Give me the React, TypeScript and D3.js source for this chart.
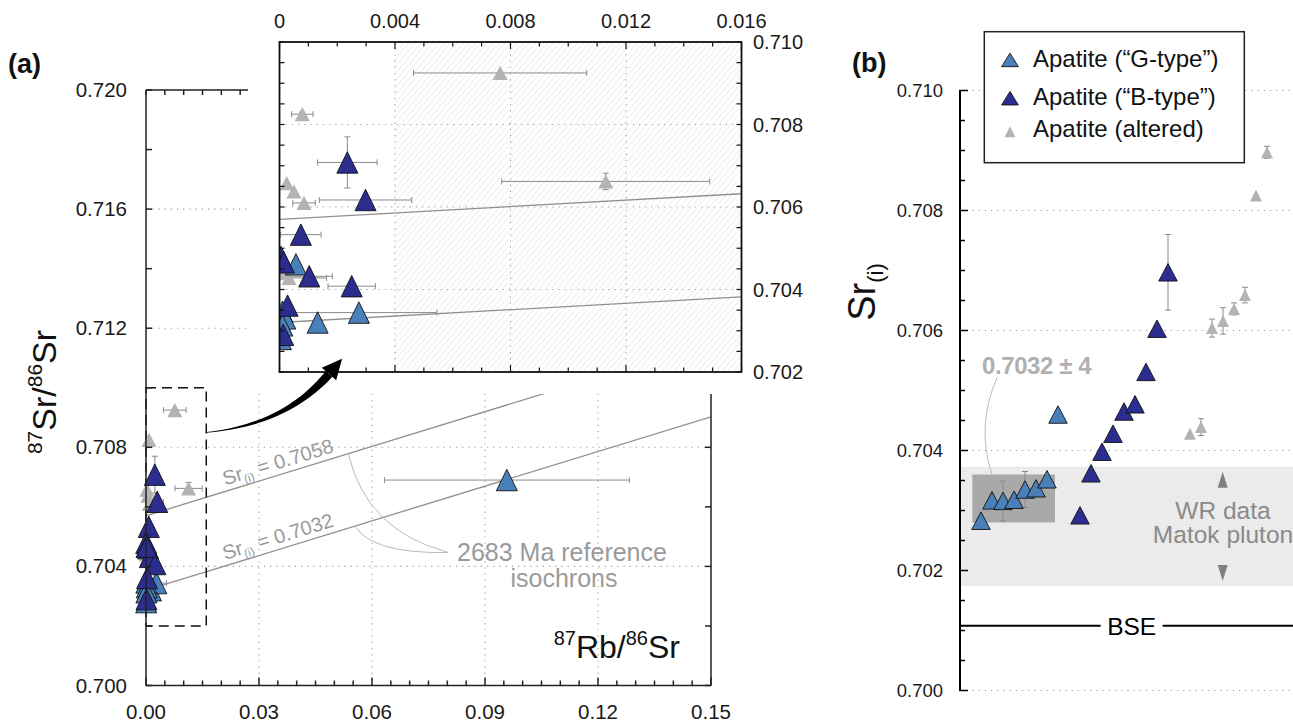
import React from 'react';
import * as d3 from 'd3';

// ---------- Panel (a): measured apatite data ----------
const apType = ['G','G','G','G','G','G','G','G','B','B','B','B','B','B','B','B','B','A','A','A','A','A','A','A','A'];
const rbSr = [0.00057,0.00132,0.00275,0.00010,0.00020,0.00010,0.00005,0.0958,
  0.00235,0.00298,0.00074,0.00005,0.00103,0.0025,0.00028,0.00013,0.00015,
  0.00079,0.00025,0.0005,0.00085,0.00764,0.0113,0.00033,0.0001];
const srSr = [0.70461,0.70320,0.70344,0.70346,0.70330,0.70313,0.70280,0.7069,
  0.70708,0.70617,0.70533,0.70479,0.70432,0.70408,0.70361,0.70290,0.70466,
  0.70825,0.70658,0.70638,0.7061,0.70925,0.70662,0.70428,0.7044];
const rbSrErr = [0,0,0.0027,0,0,0,0,0.0325,
  0.00103,0.0016,0.0007,0,0.0008,0.00082,0,0,0,
  0.00037,0,0,0.00039,0.003,0.0036,0.0013,0];
const srSrErr = [0,0,0.00009,0,0,0,0,0,
  0.00062,0,0,0,0,0,0,0,0,
  0.00005,0,0,0,0,0.0002,0,0];

const isochronIntercepts = [0.7032, 0.7057];
const isochronLabels = ['0.7032', '0.7058'];
const decayFactor = Math.exp(1.42e-11 * 2683e6) - 1;

const mainXTicks = [0, 0.03, 0.06, 0.09, 0.12, 0.15];
const mainXLabels = ['0.00', '0.03', '0.06', '0.09', '0.12', '0.15'];
const mainYTicks = [0.700, 0.704, 0.708, 0.712, 0.716, 0.720];
const mainYLabels = ['0.700', '0.704', '0.708', '0.712', '0.716', '0.720'];
const insetXTicks = [0, 0.004, 0.008, 0.012, 0.016];
const insetXLabels = ['0', '0.004', '0.008', '0.012', '0.016'];
const insetYTicks = [0.702, 0.704, 0.706, 0.708, 0.710];
const insetYLabels = ['0.702', '0.704', '0.706', '0.708', '0.710'];

// ---------- Panel (b): initial ratios ----------
const sriG = [0.70283,0.70317,0.70316,0.70318,0.70335,0.70337,0.70352,0.70460];
const sriGErr = [0,0,0.00033,0,0.0003,0,0,0];
const sriB = [0.70292,0.70362,0.70398,0.70428,0.70465,0.70477,0.70531,0.70603,0.70697];
const sriBErr = [0,0,0,0,0,0,0,0,0.00063];
const sriA = [0.70428,0.70439,0.70604,0.70616,0.70636,0.70659,0.70825,0.70897];
const sriAErr = [0,0.00014,0.00015,0.00022,0.0001,0.00013,0,0.0001];

const bYTicks = [0.700, 0.702, 0.704, 0.706, 0.708, 0.710];
const bYLabels = ['0.700', '0.702', '0.704', '0.706', '0.708', '0.710'];
const bGrid = [0.700, 0.702, 0.704, 0.706, 0.708, 0.710];
const wrBand = [0.70174, 0.70373];
const sriBox = [0.7028, 0.7036];
const bseValue = 0.70108;
const legendLabels = ['Apatite (\u201CG-type\u201D)', 'Apatite (\u201CB-type\u201D)', 'Apatite (altered)'];

const FONT = "'Liberation Sans', Arial, Helvetica, sans-serif";
const COL: Record<string, string> = { G: '#4a80b9', B: '#2b2e8f', A: '#b3b3b3' };
const GRID = '#9c9c9c';
const ERR = '#8a8a8a';

function tri(cx: number, cy: number, w: number, h: number, dir = 1) {
  return `M${cx},${cy - dir * h / 2}L${cx - w / 2},${cy + dir * h / 2}L${cx + w / 2},${cy + dir * h / 2}Z`;
}

function ErrBar({ x, y, x0, x1, y0, y1 }: any) {
  const c = 3;
  return (
    <g stroke={ERR} strokeWidth={1}>
      {x0 !== x1 && <>
        <line x1={x0} x2={x1} y1={y} y2={y} />
        <line x1={x0} x2={x0} y1={y - c} y2={y + c} />
        <line x1={x1} x2={x1} y1={y - c} y2={y + c} />
      </>}
      {y0 !== y1 && <>
        <line x1={x} x2={x} y1={y0} y2={y1} />
        <line x1={x - c} x2={x + c} y1={y0} y2={y0} />
        <line x1={x - c} x2={x + c} y1={y1} y2={y1} />
      </>}
    </g>
  );
}

function Points({ sx, sy, big, small }: any) {
  const order = d3.range(rbSr.length).sort((a, b) => {
    const r: any = { A: 0, G: 1, B: 2 };
    return r[apType[a]] - r[apType[b]];
  });
  return (
    <g>
      {order.map(i => (
        <ErrBar key={'e' + i} x={sx(rbSr[i])} y={sy(srSr[i])}
          x0={sx(rbSr[i] - rbSrErr[i])} x1={sx(rbSr[i] + rbSrErr[i])}
          y0={sy(srSr[i] + srSrErr[i])} y1={sy(srSr[i] - srSrErr[i])} />
      ))}
      {order.map(i => {
        const a = apType[i] === 'A';
        return (
          <path key={'p' + i} d={tri(sx(rbSr[i]), sy(srSr[i]), a ? small : big, a ? small * 0.95 : big * 1.02)}
            fill={COL[apType[i]]} stroke={a ? 'none' : '#111'} strokeWidth={0.9} />
        );
      })}
    </g>
  );
}

export default function App() {
  // ----- scales -----
  const xM = d3.scaleLinear().domain([0, 0.15]).range([146, 711]);
  const yM = d3.scaleLinear().domain([0.700, 0.720]).range([685.5, 90]);
  const xI = d3.scaleLinear().domain([0, 0.016]).range([279.5, 741.5]);
  const yI = d3.scaleLinear().domain([0.702, 0.710]).range([372, 42]);
  const xB = d3.scaleLinear().domain([0, 26]).range([981, 1267]);
  const yB = d3.scaleLinear().domain([0.700, 0.710]).range([690.5, 90.5]);

  const iso = (b: number, x: number) => b + decayFactor * x;
  const lineM = d3.line<number>().x(d => xM(d[0])).y(d => yM(d[1]));

  // isochron label positions
  const labX = 0.021;
  const ang = -Math.atan((decayFactor * (yM(0.7) - yM(0.701)) / 0.001) / ((xM(0.001) - xM(0)) / 0.001)) * 180 / Math.PI;

  // arrow (from dashed box to inset)
  const P0 = [xM(0.016), yM(0.7085)];
  const P2 = [329, 374];
  const C = [285, 425];
  const left: number[][] = [], right: number[][] = [];
  for (let k = 0; k <= 30; k++) {
    const t = k / 30;
    const bx = (1 - t) * (1 - t) * P0[0] + 2 * (1 - t) * t * C[0] + t * t * P2[0];
    const by = (1 - t) * (1 - t) * P0[1] + 2 * (1 - t) * t * C[1] + t * t * P2[1];
    const dx = 2 * (1 - t) * (C[0] - P0[0]) + 2 * t * (P2[0] - C[0]);
    const dy = 2 * (1 - t) * (C[1] - P0[1]) + 2 * t * (P2[1] - C[1]);
    const L = Math.hypot(dx, dy);
    const nx = -dy / L, ny = dx / L;
    const w = 0.4 + 4.0 * Math.pow(t, 1.3);
    left.push([bx + nx * w, by + ny * w]);
    right.push([bx - nx * w, by - ny * w]);
  }
  const shaft = 'M' + left.map(p => p.join(',')).join('L') + 'L' + right.reverse().map(p => p.join(',')).join('L') + 'Z';
  const tdx = P2[0] - C[0], tdy = P2[1] - C[1];
  const tl = Math.hypot(tdx, tdy);
  const ux = tdx / tl, uy = tdy / tl;
  const head = `M${P2[0] + ux * 20},${P2[1] + uy * 20}L${P2[0] - uy * 9.5},${P2[1] + ux * 9.5}L${P2[0] + uy * 9.5},${P2[1] - ux * 9.5}Z`;

  const minorMX = d3.range(0, 0.15001, 0.005);
  const minorMY = d3.range(0.700, 0.72001, 0.002);
  const minorIX = d3.range(0, 0.01601, 0.001);
  const minorIY = d3.range(0.702, 0.71001, 0.0005);
  const minorBY = d3.range(0.700, 0.71001, 0.0005);

  const bPoints = [
    ...sriG.map((v, i) => ({ t: 'G', v, e: sriGErr[i], pos: i })),
    ...sriB.map((v, i) => ({ t: 'B', v, e: sriBErr[i], pos: sriG.length + 1 + i })),
    ...sriA.map((v, i) => ({ t: 'A', v, e: sriAErr[i], pos: sriG.length + sriB.length + 2 + i })),
  ];

  const bseX = xB(13.7);

  return (
    <div style={{ position: 'absolute', left: 0, top: 0 }}>
      <svg width={1293} height={724} style={{ display: 'block', fontFamily: FONT }}>
        <defs>
          <clipPath id="clipMain"><rect x={xM(0)} y={yM(0.72)} width={xM(0.15) - xM(0)} height={yM(0.7) - yM(0.72)} /></clipPath>
          <clipPath id="clipInset"><rect x={xI(0)} y={yI(0.71)} width={xI(0.016) - xI(0)} height={yI(0.702) - yI(0.71)} /></clipPath>
          <clipPath id="clipB"><rect x={960} y={0} width={333} height={724} /></clipPath>
          <pattern id="hatch" width={4.6} height={4.6} patternUnits="userSpaceOnUse" patternTransform="rotate(40)">
            <line x1={0} y1={0} x2={0} y2={4.6} stroke="#d6d6d6" strokeWidth={0.8} />
          </pattern>
        </defs>

        {/* ================= PANEL (a) main ================= */}
        <g>
          {mainYTicks.slice(1, -1).map(v => (
            <line key={'gy' + v} x1={xM(0)} x2={xM(0.15)} y1={yM(v)} y2={yM(v)} stroke={GRID} strokeWidth={1.1} strokeDasharray="1.2 5" />
          ))}
          {mainXTicks.slice(1, -1).map(v => (
            <line key={'gx' + v} x1={xM(v)} x2={xM(v)} y1={yM(0.72)} y2={yM(0.7)} stroke={GRID} strokeWidth={1.1} strokeDasharray="1.2 5" />
          ))}
          <g clipPath="url(#clipMain)">
            {isochronIntercepts.map(b => (
              <path key={'iso' + b} d={lineM([[0, iso(b, 0)], [0.15, iso(b, 0.15)]]) || ''} stroke="#8f8f8f" strokeWidth={1.3} fill="none" />
            ))}
          </g>
          {isochronIntercepts.map((b, i) => (
            <text key={'isl' + b} transform={`translate(${xM(labX)},${yM(iso(b, labX)) - 6}) rotate(${ang})`}
              fontSize={20} fill="#9a9a9a">Sr<tspan fontSize={12} dy={4}>(i)</tspan><tspan dy={-4}> = {isochronLabels[i]}</tspan></text>
          ))}
          {/* leader lines */}
          <path d={`M${xM(0.0537)},${yM(iso(isochronIntercepts[1], 0.0537))}Q366.5,530.5 447,552`} stroke="#a8a8a8" strokeWidth={0.8} fill="none" />
          <path d={`M${xM(0.0555)},${yM(iso(isochronIntercepts[0], 0.0555))}Q371.9,553.9 448,552.5`} stroke="#a8a8a8" strokeWidth={0.8} fill="none" />
          <text x={562} y={561} fontSize={25} fill="#9a9a9a" textAnchor="middle">2683 Ma reference</text>
          <text x={564} y={587} fontSize={25} fill="#9a9a9a" textAnchor="middle">isochrons</text>

          {/* dashed box */}
          <rect x={xM(0)} y={yM(0.710)} width={xM(0.016) - xM(0)} height={yM(0.702) - yM(0.710)} fill="none" stroke="#111" strokeWidth={1.5} strokeDasharray="10 6" />

          <Points sx={xM} sy={yM} big={21} small={15} />

          {/* axes */}
          <g stroke="#222" strokeWidth={1.5} fill="none">
            <line x1={xM(0)} x2={xM(0)} y1={yM(0.72)} y2={yM(0.7)} />
            <line x1={xM(0.15)} x2={xM(0.15)} y1={yM(0.72)} y2={yM(0.7)} />
            <line x1={xM(0)} x2={xM(0.15)} y1={yM(0.7)} y2={yM(0.7)} />
            <line x1={xM(0)} x2={xM(0.15)} y1={yM(0.72)} y2={yM(0.72)} />
            {minorMX.map(v => {
              const major = mainXTicks.some(t => Math.abs(t - v) < 1e-6);
              return <g key={'mx' + v}>
                <line x1={xM(v)} x2={xM(v)} y1={yM(0.7)} y2={yM(0.7) - (major ? 8 : 5)} />
                <line x1={xM(v)} x2={xM(v)} y1={yM(0.72)} y2={yM(0.72) + 5} />
              </g>;
            })}
            {minorMY.map(v => <g key={'my' + v}>
              <line x1={xM(0)} x2={xM(0) + 6} y1={yM(v)} y2={yM(v)} />
              <line x1={xM(0.15)} x2={xM(0.15) - 6} y1={yM(v)} y2={yM(v)} />
            </g>)}
          </g>
          {mainXTicks.map((v, i) => (
            <text key={'mxl' + v} x={xM(v)} y={719} fontSize={20.5} textAnchor="middle" fill="#1a1a1a">{mainXLabels[i]}</text>
          ))}
          {mainYTicks.map((v, i) => (
            <text key={'myl' + v} x={127} y={yM(v) + 7} fontSize={20.5} textAnchor="end" fill="#1a1a1a">{mainYLabels[i]}</text>
          ))}
          <text x={680} y={658} fontSize={32} textAnchor="end" fill="#111"><tspan fontSize={20} dy={-13}>87</tspan><tspan dy={13}>Rb/</tspan><tspan fontSize={20} dy={-13}>86</tspan><tspan dy={13}>Sr</tspan></text>
          <text transform="translate(56,392) rotate(-90)" fontSize={34} textAnchor="middle" fill="#111"><tspan fontSize={21} dy={-14}>87</tspan><tspan dy={14}>Sr/</tspan><tspan fontSize={21} dy={-14}>86</tspan><tspan dy={14}>Sr</tspan></text>
          <text x={8} y={73} fontSize={27} fontWeight="bold" fill="#111">(a)</text>
        </g>

        {/* ================= PANEL (a) inset ================= */}
        <rect x={248} y={0} width={570} height={394} fill="#fff" />
        <g>
          <rect x={xI(0.004)} y={yI(0.71)} width={xI(0.016) - xI(0.004)} height={yI(0.702) - yI(0.71)} fill="url(#hatch)" />
          {insetYTicks.slice(1, -1).map(v => (
            <line key={'igy' + v} x1={xI(0)} x2={xI(0.016)} y1={yI(v)} y2={yI(v)} stroke={GRID} strokeWidth={1.1} strokeDasharray="1.2 5" />
          ))}
          {insetXTicks.slice(1, -1).map(v => (
            <line key={'igx' + v} x1={xI(v)} x2={xI(v)} y1={yI(0.71)} y2={yI(0.702)} stroke={GRID} strokeWidth={1.1} strokeDasharray="1.2 5" />
          ))}
          {isochronIntercepts.map(b => (
            <line key={'iiso' + b} x1={xI(0)} x2={xI(0.016)} y1={yI(iso(b, 0))} y2={yI(iso(b, 0.016))} stroke="#8f8f8f" strokeWidth={1.3} />
          ))}
          <g clipPath="url(#clipInset)">
            <Points sx={xI} sy={yI} big={21} small={15} />
          </g>
          <g stroke="#111" strokeWidth={1.8} fill="none">
            <rect x={xI(0)} y={yI(0.71)} width={xI(0.016) - xI(0)} height={yI(0.702) - yI(0.71)} />
          </g>
          <g stroke="#111" strokeWidth={1.2}>
            {minorIX.map(v => {
              const major = insetXTicks.some(t => Math.abs(t - v) < 1e-7);
              return <g key={'ix' + v}>
                <line x1={xI(v)} x2={xI(v)} y1={yI(0.71)} y2={yI(0.71) + (major ? 7 : 4.5)} />
                <line x1={xI(v)} x2={xI(v)} y1={yI(0.702)} y2={yI(0.702) - (major ? 7 : 4.5)} />
              </g>;
            })}
            {minorIY.map(v => <g key={'iy' + v}>
              <line x1={xI(0)} x2={xI(0) + 5} y1={yI(v)} y2={yI(v)} />
              <line x1={xI(0.016)} x2={xI(0.016) - 5} y1={yI(v)} y2={yI(v)} />
            </g>)}
          </g>
          {insetXTicks.map((v, i) => (
            <text key={'ixl' + v} x={xI(v)} y={28} fontSize={20} textAnchor="middle" fill="#1a1a1a">{insetXLabels[i]}</text>
          ))}
          {insetYTicks.map((v, i) => (
            <text key={'iyl' + v} x={753} y={yI(v) + 7} fontSize={20} fill="#1a1a1a">{insetYLabels[i]}</text>
          ))}
        </g>

        {/* arrow */}
        <path d={shaft} fill="#000" />
        <path d={head} fill="#000" />

        {/* ================= PANEL (b) ================= */}
        <g>
          {bGrid.map(v => (
            <line key={'bg' + v} x1={960} x2={1293} y1={yB(v)} y2={yB(v)} stroke={GRID} strokeWidth={1.1} strokeDasharray="1.2 5" />
          ))}
          <rect x={960} y={yB(wrBand[1])} width={333} height={yB(wrBand[0]) - yB(wrBand[1])} fill="#ebebeb" />
          <path d={tri(1222.7, yB(wrBand[1]) + 13, 10, 16, 1)} fill="#7f7f7f" />
          <path d={tri(1222.7, yB(wrBand[0]) - 13, 10, 16, -1)} fill="#7f7f7f" />
          <g clipPath="url(#clipB)">
            <text x={1223} y={519} fontSize={24.5} textAnchor="middle" fill="#8a8a8a">WR data</text>
            <text x={1223} y={543} fontSize={24.5} textAnchor="middle" fill="#8a8a8a">Matok pluton</text>
          </g>
          <rect x={972.3} y={yB(sriBox[1])} width={82.7} height={yB(sriBox[0]) - yB(sriBox[1])} fill="#a9a9a9" />
          <text x={982} y={374} fontSize={24} fontWeight="bold" fill="#b0b0b0" letterSpacing={-0.4}>0.7032 ± 4</text>
          <path d={`M997.3,377Q976,425 991.7,${yB(sriBox[1]) - 1}`} stroke="#aaa" strokeWidth={0.8} fill="none" />

          {/* BSE */}
          <line x1={960} x2={bseX - 31} y1={yB(bseValue)} y2={yB(bseValue)} stroke="#000" strokeWidth={2} />
          <line x1={bseX + 31} x2={1293} y1={yB(bseValue)} y2={yB(bseValue)} stroke="#000" strokeWidth={2} />
          <text x={bseX} y={yB(bseValue) + 9} fontSize={24.5} textAnchor="middle" fill="#000">BSE</text>

          {bPoints.map((p, i) => (
            <ErrBar key={'be' + i} x={xB(p.pos)} y={yB(p.v)} x0={0} x1={0} y0={yB(p.v + p.e)} y1={yB(p.v - p.e)} />
          ))}
          {bPoints.map((p, i) => {
            const a = p.t === 'A';
            return <path key={'bp' + i} d={tri(xB(p.pos), yB(p.v), a ? 12 : 18.5, a ? 12 : 17.5)}
              fill={COL[p.t]} stroke={a ? 'none' : '#111'} strokeWidth={0.9} />;
          })}

          {/* axis */}
          <g stroke="#000" strokeWidth={2}>
            <line x1={960} x2={960} y1={yB(0.710)} y2={yB(0.700)} />
          </g>
          <g stroke="#000" strokeWidth={1.5}>
            {minorBY.map(v => {
              const major = bYTicks.some(t => Math.abs(t - v) < 1e-7);
              return <line key={'by' + v} x1={959} x2={960 + (major ? 8 : 5)} y1={yB(v)} y2={yB(v)} />;
            })}
          </g>
          {bYTicks.map((v, i) => (
            <text key={'byl' + v} x={943} y={yB(v) + 6.5} fontSize={18.5} textAnchor="end" fill="#1a1a1a">{bYLabels[i]}</text>
          ))}
          <text transform="translate(875,292) rotate(-90)" fontSize={38} textAnchor="middle" fill="#111">Sr<tspan fontSize={22} dy={8}>(i)</tspan></text>
          <text x={852} y={72} fontSize={27} fontWeight="bold" fill="#111">(b)</text>

          {/* legend */}
          <rect x={984.3} y={31.7} width={260} height={131} fill="#fff" stroke="#222" strokeWidth={1.5} />
          {legendLabels.map((l, i) => {
            const t = ['G', 'B', 'A'][i];
            const ys = [66.7, 105, 137.3];
            const a = t === 'A';
            return <g key={'lg' + i}>
              <path d={tri(1010, ys[i] - (a ? 5.5 : 6.8), a ? 11 : 16.7, a ? 11 : 13.5)} fill={COL[t]} stroke={a ? 'none' : '#111'} strokeWidth={0.9} />
              <text x={1033} y={ys[i]} fontSize={24} fill="#111">{l}</text>
            </g>;
          })}
        </g>
      </svg>
    </div>
  );
}
